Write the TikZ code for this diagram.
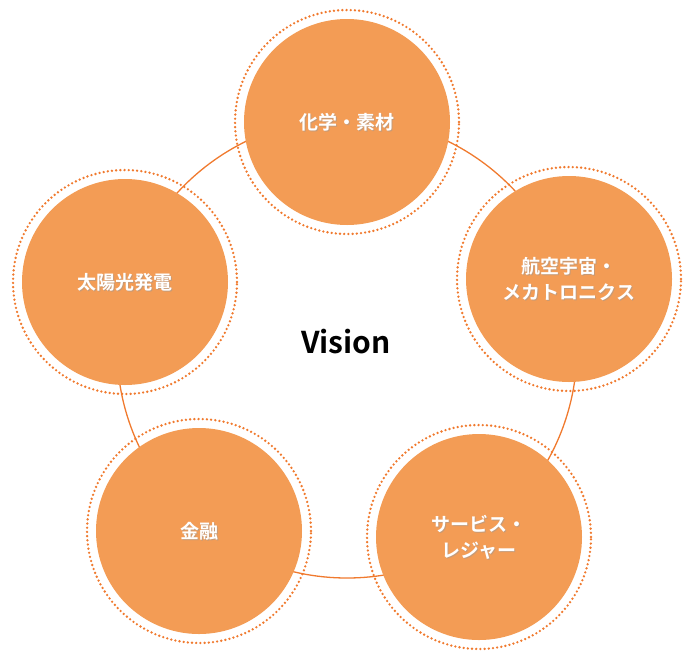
\documentclass[tikz,border=0pt]{standalone}
\usepackage{fontspec}
\newfontfamily\cjk{Noto Sans CJK JP}[BoldFont={* Bold}]
\definecolor{ln}{HTML}{F07A2E}
\definecolor{fl}{HTML}{F39C55}
\begin{document}
\begin{tikzpicture}[x=1pt,y=-1pt,
  ring/.style={circle,draw=ln,line width=2.6pt,dash pattern=on 0pt off 4.2pt,line cap=round,minimum size=224pt,inner sep=0pt},
  ball/.style={circle,fill=fl,minimum size=206pt,inner sep=0pt,text=white,font=\cjk\bfseries\fontsize{19}{26}\selectfont,align=center}]
\useasboundingbox (0,0) rectangle (700,651);
\draw[ln,line width=1.3pt] (347,348) circle (230);
\foreach \n/\x/\y/\t in {a/347/122/{化学・素材},b/569/279/{航空宇宙・\\メカトロニクス},c/479/537/{サービス・\\レジャー},d/199/531/{金融},e/125/282/{太陽光発電}}{
  \node[ring] (r\n) at (\x,\y) {};
  \node[text=black!35,font=\cjk\bfseries\fontsize{19}{26}\selectfont,align=center] at (\x+1,\y+1.5) {\t};
  \node[ball,fill opacity=0] (\n) at (\x,\y) {};
}
\foreach \n/\x/\y/\t in {a/347/122/{化学・素材},b/569/279/{航空宇宙・\\メカトロニクス},c/479/537/{サービス・\\レジャー},d/199/531/{金融},e/125/282/{太陽光発電}}{
  \fill[fl] (\x,\y) circle (103);
  \node[text=black!40,opacity=.5,font=\cjk\bfseries\fontsize{19}{26}\selectfont,align=center] at (\x+1,\y+1.5) {\t};
  \node[text=white,font=\cjk\bfseries\fontsize{19}{26}\selectfont,align=center] (t\n) at (\x,\y) {\t};
}
\node[font=\cjk\bfseries\fontsize{30}{36}\selectfont] (v) at (346,342) {Vision};
\end{tikzpicture}
\end{document}
